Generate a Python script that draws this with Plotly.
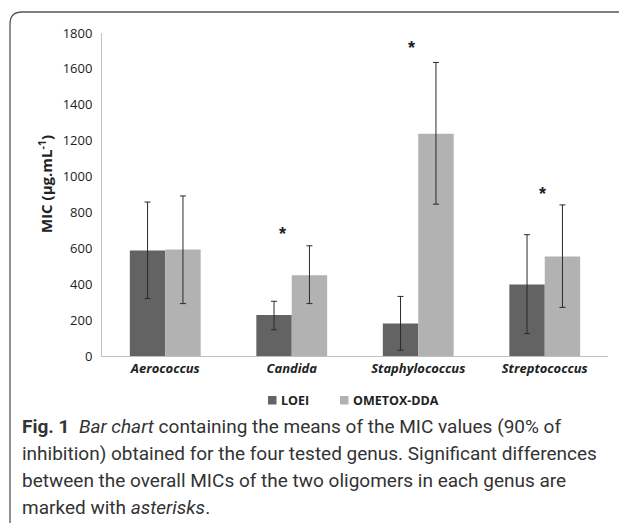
import plotly.graph_objects as go

categories = ["Aerococcus", "Candida", "Staphylococcus", "Streptococcus"]
loei = [588, 228, 181, 398]
ometox = [594, 450, 1238, 555]
loei_hi = [858, 305, 332, 676]
loei_lo = [320, 146, 32, 125]
ometox_hi = [892, 614, 1636, 842]
ometox_lo = [292, 292, 846, 271]
sig_x = [0.928, 1.95, 2.984]
sig_y = [707, 1743, 932]
y_ticks = [0, 200, 400, 600, 800, 1000, 1200, 1400, 1600, 1800]
series_names = ["LOEI", "OMETOX-DDA"]
series_colors = ["#636363", "#b2b2b2"]

# the page body adds an 8px margin, so the figure is placed 8px right/down
OFF = 8
W, H = 627 - OFF, 523 - OFF
L, R, T, B = 102 - OFF, 19, 33 - OFF, 167
pw, ph = W - L - R, H - T - B


def px(x):  # reference-window pixel -> paper x
    return (x - OFF - L) / pw


def py(y):  # reference-window pixel -> paper y
    return (H - B - (y - OFF)) / ph


fig = go.Figure()
for name, col, vals, hi, lo in [
    (series_names[0], series_colors[0], loei, loei_hi, loei_lo),
    (series_names[1], series_colors[1], ometox, ometox_hi, ometox_lo),
]:
    fig.add_trace(go.Bar(
        name=name, x=categories, y=vals, showlegend=False,
        marker=dict(color=col, line=dict(width=0)),
        error_y=dict(type="data", symmetric=False,
                     array=[h - v for h, v in zip(hi, vals)],
                     arrayminus=[v - l for v, l in zip(vals, lo)],
                     color="#2a2a2a", thickness=1, width=3),
    ))

for sx, sy in zip(sig_x, sig_y):
    fig.add_annotation(x=sx, y=sy, xref="x", yref="y", text="<b>*</b>", showarrow=False,
                       font=dict(family="Liberation Sans", size=18, color="#222"),
                       yanchor="middle", yshift=-5)

# legend (drawn manually to keep the swatches tight to their labels)
leg_sw_x = [268, 340]
leg_tx_x = [279, 351]
for name, col, sx, tx in zip(series_names, series_colors, leg_sw_x, leg_tx_x):
    fig.add_shape(type="rect", xref="paper", yref="paper",
                  x0=px(sx), x1=px(sx + 8.5), y0=py(404.5), y1=py(396),
                  fillcolor=col, line=dict(width=0))
    fig.add_annotation(x=px(tx), y=py(400), xref="paper", yref="paper", text=f"<b>{name}</b>",
                       showarrow=False, xanchor="left", yanchor="middle",
                       font=dict(family="Open Sans", size=12.5, color="#222"))

# y-axis title
fig.add_annotation(x=px(45), y=py(184), xref="paper", yref="paper",
                   text="<b>MIC (µg.mL<sup>-1</sup>)</b>", textangle=-90, showarrow=False,
                   xanchor="center", yanchor="middle",
                   font=dict(family="Open Sans", size=15, color="#222"))

caption = [
    "<b>Fig. 1</b>  <i>Bar chart</i> containing the means of the MIC values (90% of",
    "inhibition) obtained for the four tested genus. Significant differences",
    "between the overall MICs of the two oligomers in each genus are",
    "marked with <i>asterisks</i>.",
]
cap_y = [426, 453, 480, 507]
for line, cy in zip(caption, cap_y):
    fig.add_annotation(x=px(20), y=py(cy), xref="paper", yref="paper", text=line,
                       showarrow=False, xanchor="left", yanchor="middle",
                       font=dict(family="Roboto", size=19, color="#333"))

# rounded frame
x0, y0, r = 10, 12, 12
path = (f"M {px(x0)},{py(540)} L {px(x0)},{py(y0 + r)} "
        f"Q {px(x0)},{py(y0)} {px(x0 + r)},{py(y0)} L {px(640)},{py(y0)}")
fig.add_shape(type="path", path=path, xref="paper", yref="paper",
              line=dict(color="#555", width=1.3))

fig.update_layout(
    width=W, height=H, margin=dict(l=L, r=R, t=T, b=B, pad=0),
    paper_bgcolor="white", plot_bgcolor="white",
    barmode="group", bargap=0.44, bargroupgap=0,
    showlegend=False,
    font=dict(family="Open Sans", color="#222"),
)
fig.update_xaxes(showline=True, linecolor="#bfbfbf", linewidth=1, ticks="",
                 tickfont=dict(family="Open Sans", size=13, style="italic", weight="bold", color="#222"),
                 showgrid=False, zeroline=False)
fig.update_yaxes(range=[0, 1800], tickvals=y_ticks, showline=True, linecolor="#bfbfbf", linewidth=1,
                 ticks="", showgrid=False, zeroline=False, ticklabelstandoff=6,
                 tickfont=dict(family="Open Sans", size=13, color="#222"))

fig.write_html("out.html")
